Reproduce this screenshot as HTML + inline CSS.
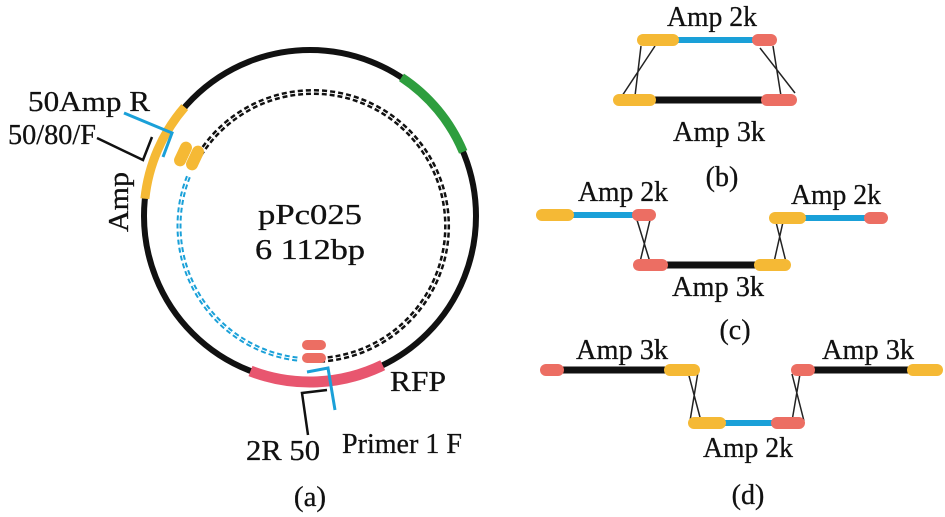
<!DOCTYPE html>
<html><head><style>body{margin:0;background:#fff}svg{display:block}text{font-family:"Liberation Serif",serif;fill:#111;stroke:#111;stroke-width:0.3}</style></head><body>
<svg width="945" height="517" viewBox="0 0 945 517" xmlns="http://www.w3.org/2000/svg">
<g fill="none" stroke-linecap="butt">
<circle cx="310" cy="216" r="166" stroke="#111" stroke-width="6"/>
<path d="M184.7,107.1 A166,166 0 0 0 144.9,198.7" stroke="#f5b935" stroke-width="9"/>
<path d="M401.5,77.4 A166,166 0 0 1 463.2,151.9" stroke="#2e9e3e" stroke-width="9"/>
<path d="M250.5,371 A166,166 0 0 0 382.7,365.2" stroke="#e8566f" stroke-width="11"/>
<path d="M188.4,176.7 A134,134 0 0 0 299.7,359.3" stroke="#1aa0d8" stroke-width="5" stroke-dasharray="5,3"/>
<path d="M188.4,176.7 A134,134 0 0 0 299.7,359.3" stroke="#fff" stroke-width="1"/>
<path d="M320,359.8 A134,134 0 1 0 199.4,155" stroke="#111" stroke-width="6" stroke-dasharray="5,3"/>
<path d="M320,359.8 A134,134 0 1 0 199.4,155" stroke="#fff" stroke-width="1"/>
<path d="M124,113 L172,133 L163,157" stroke="#1aa0d8" stroke-width="3"/>
<path d="M97,138 L143,160 L152,137" stroke="#111" stroke-width="2.5"/>
<path d="M307,372 L328,368 L335,410" stroke="#1aa0d8" stroke-width="3"/>
<path d="M308,435 L302,393 L327,390" stroke="#111" stroke-width="2.5"/>
</g>
<g fill="#f5b935">
<rect x="-6" y="-13" width="12" height="26" rx="6" transform="translate(183,154) rotate(25)"/>
<rect x="-6" y="-13" width="12" height="26" rx="6" transform="translate(195,158) rotate(25)"/>
</g>
<g fill="#ec6e63">
<rect x="302" y="340" width="24" height="10" rx="5"/>
<rect x="302" y="353" width="24" height="10" rx="5"/>
</g>
<g font-size="29">
<text x="28" y="111" textLength="122" lengthAdjust="spacingAndGlyphs">50Amp R</text>
<text x="8" y="144" textLength="88" lengthAdjust="spacingAndGlyphs">50/80/F</text>
<text transform="translate(128,232) rotate(-90)" textLength="60" lengthAdjust="spacingAndGlyphs">Amp</text>
<text x="310" y="224" text-anchor="middle" textLength="104" lengthAdjust="spacingAndGlyphs">pPc025</text>
<text x="310" y="259" text-anchor="middle" textLength="110" lengthAdjust="spacingAndGlyphs">6 112bp</text>
<text x="390" y="391" textLength="56" lengthAdjust="spacingAndGlyphs">RFP</text>
<text x="246" y="460" textLength="74" lengthAdjust="spacingAndGlyphs">2R 50</text>
<text x="342" y="453" textLength="120" lengthAdjust="spacingAndGlyphs">Primer 1 F</text>
<text x="310" y="506" text-anchor="middle">(a)</text>
</g>
<g stroke="#222" stroke-width="1.5" fill="none">
<path d="M641,46 L635,96 M655,46 L622,96"/>
<path d="M760,48 L795,93 M773,46 L781,96"/>
<path d="M637,220 L650,262 M650,220 L640,262"/>
<path d="M776,222 L786,262 M783,222 L774,262"/>
<path d="M688,372 L701,421 M698,372 L690,421"/>
<path d="M792,374 L804,421 M800,374 L792,421"/>
</g>
<g stroke-linecap="round" fill="none">
<path d="M678,40 L752,40" stroke="#1aa0d8" stroke-width="6"/>
<path d="M655,100 L762,100" stroke="#111" stroke-width="7"/>
<path d="M573,215 L632,215" stroke="#1aa0d8" stroke-width="6"/>
<path d="M805,218 L865,218" stroke="#1aa0d8" stroke-width="6"/>
<path d="M667,265 L755,265" stroke="#111" stroke-width="7"/>
<path d="M563,370 L665,370" stroke="#111" stroke-width="7"/>
<path d="M814,370 L908,370" stroke="#111" stroke-width="7"/>
<path d="M725,423 L772,423" stroke="#1aa0d8" stroke-width="6"/>
</g>
<g>
<rect x="637" y="34" width="42" height="12" rx="6" fill="#f5b935"/>
<rect x="752" y="34" width="25" height="12" rx="6" fill="#ec6e63"/>
<rect x="613" y="94" width="43" height="12" rx="6" fill="#f5b935"/>
<rect x="761" y="94" width="36" height="12" rx="6" fill="#ec6e63"/>
<rect x="536" y="209" width="38" height="12" rx="6" fill="#f5b935"/>
<rect x="632" y="209" width="24" height="12" rx="6" fill="#ec6e63"/>
<rect x="769" y="212" width="37" height="12" rx="6" fill="#f5b935"/>
<rect x="864" y="212" width="24" height="12" rx="6" fill="#ec6e63"/>
<rect x="633" y="259" width="35" height="12" rx="6" fill="#ec6e63"/>
<rect x="754" y="259" width="37" height="12" rx="6" fill="#f5b935"/>
<rect x="540" y="364" width="24" height="12" rx="6" fill="#ec6e63"/>
<rect x="664" y="364" width="36" height="12" rx="6" fill="#f5b935"/>
<rect x="791" y="364" width="24" height="12" rx="6" fill="#ec6e63"/>
<rect x="907" y="364" width="36" height="12" rx="6" fill="#f5b935"/>
<rect x="688" y="417" width="38" height="12" rx="6" fill="#f5b935"/>
<rect x="771" y="417" width="34" height="12" rx="6" fill="#ec6e63"/>
</g>
<g font-size="28" text-anchor="middle">
<text x="712" y="26" textLength="90" lengthAdjust="spacingAndGlyphs">Amp 2k</text>
<text x="719" y="141" textLength="92" lengthAdjust="spacingAndGlyphs">Amp 3k</text>
<text x="722" y="186">(b)</text>
<text x="623" y="201" textLength="90" lengthAdjust="spacingAndGlyphs">Amp 2k</text>
<text x="836" y="204" textLength="90" lengthAdjust="spacingAndGlyphs">Amp 2k</text>
<text x="718" y="296" textLength="92" lengthAdjust="spacingAndGlyphs">Amp 3k</text>
<text x="735" y="339">(c)</text>
<text x="622" y="359" textLength="92" lengthAdjust="spacingAndGlyphs">Amp 3k</text>
<text x="868" y="359" textLength="92" lengthAdjust="spacingAndGlyphs">Amp 3k</text>
<text x="748" y="457" textLength="90" lengthAdjust="spacingAndGlyphs">Amp 2k</text>
<text x="748" y="504">(d)</text>
</g>
</svg>
</body></html>
